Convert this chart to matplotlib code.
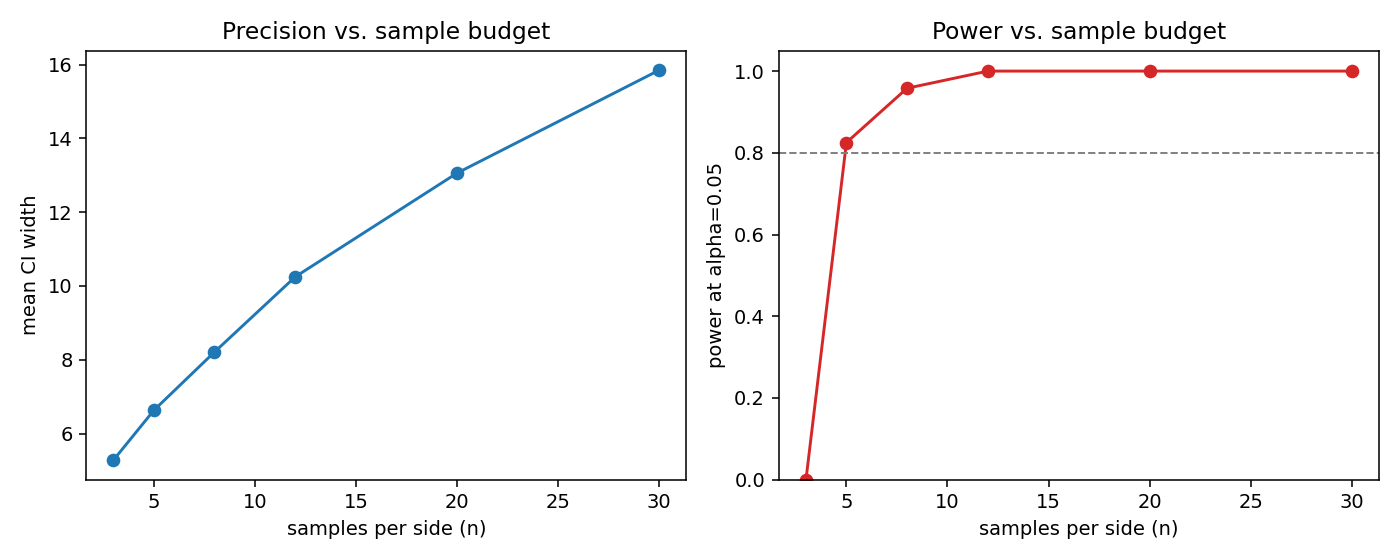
import matplotlib
matplotlib.use("Agg")
import matplotlib.pyplot as plt

n_values = [3, 5, 8, 12, 20, 30]
ci_width = [5.28, 6.63, 8.21, 10.25, 13.06, 15.85]
power = [0.0, 0.825, 0.958, 1.0, 1.0, 1.0]
power_target = 0.8

fig, (ax1, ax2) = plt.subplots(1, 2, figsize=(10, 4), dpi=140)

ax1.plot(n_values, ci_width, marker="o", color="tab:blue")
ax1.set_title("Precision vs. sample budget")
ax1.set_xlabel("samples per side (n)")
ax1.set_ylabel("mean CI width")

ax2.plot(n_values, power, marker="o", color="tab:red")
ax2.axhline(power_target, color="gray", linestyle="--", linewidth=1)
ax2.set_ylim(bottom=0)
ax2.set_title("Power vs. sample budget")
ax2.set_xlabel("samples per side (n)")
ax2.set_ylabel("power at alpha=0.05")

plt.tight_layout()
plt.savefig("out.png", dpi=140)
